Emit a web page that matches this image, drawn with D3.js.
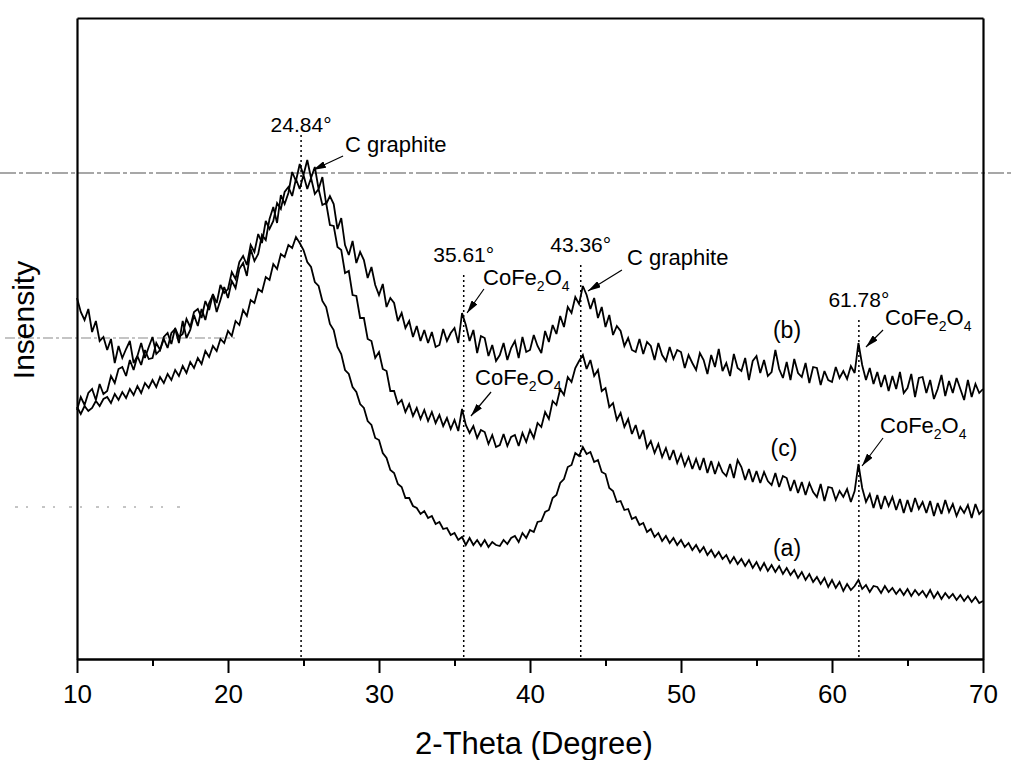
<!DOCTYPE html>
<html>
<head>
<meta charset="utf-8">
<script src="https://cdn.jsdelivr.net/npm/d3@7"></script>
<style>
  body { margin: 0; background: #fff; }
  svg { display: block; }
  text { font-family: "Liberation Sans", Arial, sans-serif; fill: #000; }
</style>
</head>
<body>
<svg id="chart" width="1011" height="760"></svg>
<script>
// ---- Data -------------------------------------------------------------
// Scan grid: 2-theta from 10 to 70 degrees, sampled every 0.25 degrees.
const twoThetaStart = 10;
const twoThetaStep = 0.25;

const xTicks = [10, 20, 30, 40, 50, 60, 70];
const xMinorTicks = [15, 25, 35, 45, 55, 65];

// Intensity (a.u.) of sample (a)
const intensityA = [
  252,245,253,248, 251,258,253,260, 262,256,265,259, 267,261,270,264,
  273,266,276,271, 279,272,282,276, 285,279,289,283, 293,286,297,291,
  301,295,308,302, 313,308,320,316, 328,323,338,334, 349,343,359,356,
  370,367,382,379, 395,390,405,402, 414,411,422,416, 409,397,392,377,
  373,358,352,335, 329,312,305,289, 285,272,267,255, 251,238,234,221,
  219,206,201,189, 186,175,172,161, 161,153,151,145, 148,141,143,135,
  137,130,131,124, 126,119,122,114, 121,114,119,113, 119,112,117,114,
  113,119,115,121, 123,117,126,121, 129,127,137,138, 147,149,161,164,
  176,180,192,194, 206,203,212,205, 207,197,199,187, 185,171,168,157,
  158,149,150,140, 142,134,136,127, 130,122,126,118, 123,116,121,114,
  119,112,116,109, 114,107,112,104, 109,102,107,100, 104,96,102,95,
  100,93,99,91, 97,89,96,88, 94,87,93,85, 91,84,89,81,
  87,79,85,77, 82,75,81,72, 79,71,77,68, 75,69,73,79,
  70,74,67,73, 72,66,73,67, 71,65,70,64, 70,63,69,64,
  68,62,69,61, 67,60,66,61, 65,59,64,58, 63,57,62,56,
  58
];

// Intensity (a.u.) of sample (b)
const intensityB = [
  361,347,339,350, 327,338,318,322, 309,320,296,313, 301,310,318,296,
  303,316,301,312, 322,305,309,320, 311,326,330,316, 338,321,329,344,
  333,350,339,356, 364,347,359,372, 361,378,371,390, 396,383,410,398,
  405,424,419,440, 452,436,464,455, 466,487,478,495, 484,499,481,492,
  470,482,455,463, 455,430,441,414, 404,418,396,407, 399,381,392,374,
  364,375,352,361, 356,338,346,331, 338,322,333,318, 329,316,327,312,
  314,330,318,326, 331,316,346,334, 318,329,306,323, 321,303,314,298,
  304,316,299,311, 318,301,322,307, 309,324,313,306, 328,317,334,325,
  343,332,352,346, 362,355,373,364, 350,361,341,352, 332,344,324,333,
  328,313,321,309, 307,320,305,317, 313,299,316,304, 298,312,300,309,
  307,291,304,296, 289,306,299,285, 304,292,310,288, 296,283,305,291,
  288,301,279,298, 303,286,299,283, 287,309,290,281, 297,279,300,286,
  282,296,276,292, 291,274,288,279, 277,292,281,288, 280,293,286,316,
  294,279,291,275, 287,272,284,268, 283,270,287,266, 271,285,262,281,
  282,266,279,260, 270,284,263,278, 266,281,270,259, 279,262,275,266,
  270
];

// Intensity (a.u.) of sample (c)
const intensityC = [
  249,262,254,266, 270,259,275,265, 268,283,276,290, 292,283,299,289,
  303,294,309,300, 301,316,309,322, 326,315,331,322, 325,340,332,347,
  350,341,358,349, 365,356,374,366, 370,387,380,397, 403,394,414,407,
  425,416,438,430, 438,456,450,467, 472,463,480,470, 484,470,481,465,
  470,454,456,434, 433,412,409,386, 388,364,363,341, 341,320,318,301,
  307,290,288,268, 268,255,259,247, 255,243,251,240, 249,238,247,236,
  244,233,241,230, 239,228,250,234, 226,233,221,229, 227,215,224,212,
  214,225,213,222, 224,213,226,217, 229,221,236,232, 247,240,258,254,
  270,264,282,277, 291,298,304,290, 299,283,289,268, 271,252,256,239,
  246,232,240,225, 234,220,229,211, 218,206,215,202, 211,199,209,196,
  205,193,202,190, 200,189,201,186, 198,185,196,187, 183,195,181,199,
  192,179,190,177, 188,176,187,178, 174,186,172,183, 181,168,179,166,
  177,164,176,167, 162,175,158,172, 171,159,168,162, 170,157,168,195,
  171,157,165,151, 164,150,163,153, 162,149,160,146, 159,147,161,150,
  157,146,158,143, 156,145,159,147, 155,143,152,146, 154,141,155,145,
  149
];

// Indexed reflections
const peakPositions = [24.84, 35.61, 43.36, 61.78];
const peakLabels = ["24.84°", "35.61°", "43.36°", "61.78°"];

const phaseNames = ["C graphite", "CoFe2O4", "C graphite", "CoFe2O4", "CoFe2O4", "CoFe2O4"];
const curveNames = ["(a)", "(b)", "(c)"];

// ---- Layout -----------------------------------------------------------
const plot = { left: 77, right: 983, top: 18, bottom: 659 };

// annotation placement, in (2-theta, intensity)
const peakLineTop = [524, 384, 394, 339];
const peakLabelLevel = [527, 397, 407, 352];
const phaseTextAt = [[27.75, 507], [36.89, 374], [46.42, 394], [36.36, 274], [63.51, 334], [63.18, 226]];
const phaseArrowFrom = [[27.62, 503], [36.95, 370], [46.09, 389], [37.42, 267], [63.38, 329], [63.38, 221]];
const phaseArrowTo = [[25.63, 489], [35.83, 346], [43.84, 368], [36.09, 243], [62.25, 312], [61.99, 193]];
const curveLabelAt = [[57.02, 103], [57.02, 321], [56.82, 203]];

// faint ruled lines across the page (pixel rows and extents)
const pageRules = [
  { y: 173, x0: 0, x1: 1011, dash: "16,3,4,3", w: 1.4 },
  { y: 338, x0: 5, x1: 235, dash: "10,3,3,3", w: 1.2 },
  { y: 507, x0: 15, x1: 180, dash: "3,8,2,14", w: 1.0 }
];

// ---- Drawing ----------------------------------------------------------
const svg = d3.select("#chart");

const x = d3.scaleLinear().domain([10, 70]).range([plot.left, plot.right]);
const y = d3.scaleLinear().domain([0, 641]).range([plot.bottom, plot.top]);

const defs = svg.append("defs");
defs.append("marker")
  .attr("id", "arrowhead")
  .attr("viewBox", "0 0 13 7")
  .attr("refX", 13).attr("refY", 3.5)
  .attr("markerWidth", 13).attr("markerHeight", 7)
  .attr("markerUnits", "userSpaceOnUse")
  .attr("orient", "auto")
  .append("path")
  .attr("d", "M0,0L13,3.5L0,7Z")
  .attr("fill", "#000");

// page rules
svg.append("g").selectAll("line").data(pageRules).join("line")
  .attr("x1", d => d.x0).attr("x2", d => d.x1)
  .attr("y1", d => d.y).attr("y2", d => d.y)
  .attr("stroke", "#8a8a8a")
  .attr("stroke-width", d => d.w)
  .attr("stroke-dasharray", d => d.dash);

// peak marker lines
svg.append("g").selectAll("line").data(peakPositions).join("line")
  .attr("x1", d => x(d)).attr("x2", d => x(d))
  .attr("y1", (d, i) => y(peakLineTop[i]))
  .attr("y2", y(0))
  .attr("stroke", "#000")
  .attr("stroke-width", 1.5)
  .attr("stroke-dasharray", "2,3");

svg.append("g").selectAll("text").data(peakLabels).join("text")
  .attr("x", (d, i) => x(peakPositions[i]))
  .attr("y", (d, i) => y(peakLabelLevel[i]))
  .attr("text-anchor", "middle")
  .attr("font-size", 21)
  .text(d => d);

// patterns
const line = d3.line()
  .x((d, i) => x(twoThetaStart + i * twoThetaStep))
  .y(d => y(d));

svg.append("g").selectAll("path")
  .data([intensityA, intensityC, intensityB])
  .join("path")
  .attr("d", d => line(d))
  .attr("fill", "none")
  .attr("stroke", "#000")
  .attr("stroke-width", 1.8)
  .attr("stroke-linejoin", "miter")
  .attr("stroke-miterlimit", 3);

// phase labels with arrows
const phaseG = svg.append("g");
phaseNames.forEach((name, i) => {
  phaseG.append("line")
    .attr("x1", x(phaseArrowFrom[i][0])).attr("y1", y(phaseArrowFrom[i][1]))
    .attr("x2", x(phaseArrowTo[i][0])).attr("y2", y(phaseArrowTo[i][1]))
    .attr("stroke", "#000").attr("stroke-width", 1.2)
    .attr("marker-end", "url(#arrowhead)");
  const t = phaseG.append("text")
    .attr("x", x(phaseTextAt[i][0]))
    .attr("y", y(phaseTextAt[i][1]))
    .attr("font-size", 22);
  const m = name.match(/^([A-Za-z]+)(\d)([A-Za-z]+)(\d)$/);
  if (m) {
    t.append("tspan").text(m[1]);
    t.append("tspan").attr("font-size", 14).attr("dy", 6).text(m[2]);
    t.append("tspan").attr("dy", -6).text(m[3]);
    t.append("tspan").attr("font-size", 14).attr("dy", 6).text(m[4]);
  } else {
    t.text(name);
  }
});

// curve labels
svg.append("g").selectAll("text").data(curveNames).join("text")
  .attr("x", (d, i) => x(curveLabelAt[i][0]))
  .attr("y", (d, i) => y(curveLabelAt[i][1]))
  .attr("text-anchor", "middle")
  .attr("font-size", 23)
  .text(d => d);

// frame and axes
const axisStyle = g => {
  g.selectAll("path.domain").attr("stroke", "#000").attr("stroke-width", 2.2);
  g.selectAll(".tick line").attr("stroke", "#000").attr("stroke-width", 2);
};

svg.append("g")
  .attr("transform", `translate(0,${plot.top})`)
  .call(d3.axisTop(x).tickValues([]).tickSizeOuter(0))
  .call(axisStyle);

svg.append("g")
  .attr("transform", `translate(${plot.right},0)`)
  .call(d3.axisRight(y).tickValues([]).tickSizeOuter(0))
  .call(axisStyle);

svg.append("g")
  .attr("transform", `translate(${plot.left},0)`)
  .call(d3.axisLeft(y).tickValues([]).tickSizeOuter(0))
  .call(axisStyle);

svg.append("g")
  .attr("transform", `translate(0,${plot.bottom})`)
  .call(d3.axisBottom(x).tickValues(xMinorTicks).tickSize(7).tickSizeOuter(0).tickFormat(""))
  .call(axisStyle);

const xAxis = svg.append("g")
  .attr("transform", `translate(0,${plot.bottom})`)
  .call(d3.axisBottom(x).tickValues(xTicks).tickSize(14).tickPadding(12).tickSizeOuter(0).tickFormat(d3.format("d")))
  .call(axisStyle);
xAxis.selectAll(".tick text")
  .attr("font-size", 26)
  .attr("font-family", "\"Liberation Sans\", Arial, sans-serif")
  .attr("fill", "#000");

// axis titles
svg.append("text")
  .attr("x", 534)
  .attr("y", 754)
  .attr("text-anchor", "middle")
  .attr("font-size", 31)
  .text("2-Theta (Degree)");

svg.append("text")
  .attr("transform", "translate(34,320) rotate(-90)")
  .attr("text-anchor", "middle")
  .attr("font-size", 30)
  .text("Insensity");
</script>
</body>
</html>
